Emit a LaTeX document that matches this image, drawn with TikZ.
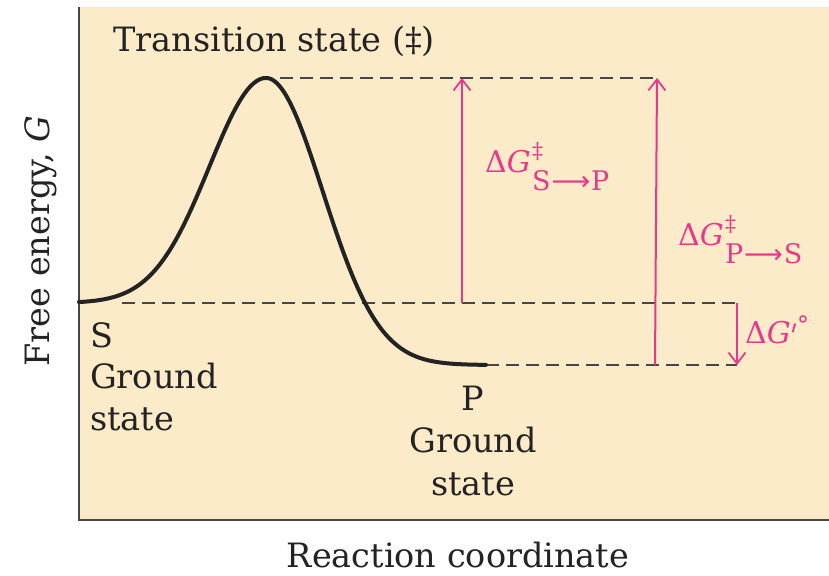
\documentclass[tikz,border=0pt]{standalone}
\usepackage{fontspec}
\setmainfont{DejaVu Serif}
\newfontfamily\arrowfont{DejaVu Sans}
\usetikzlibrary{arrows.meta}
\definecolor{cream}{RGB}{252,235,200}
\definecolor{axisgrey}{RGB}{70,70,70}
\definecolor{inkblack}{RGB}{35,35,35}
\definecolor{hotpink}{RGB}{232,56,140}
\newcommand{\subarrow}{\kern1pt{\arrowfont ⟶}\kern1pt}
\newcommand{\dglab}[1]{Δ\textit{G}\kern0.04em\rlap{\raisebox{14pt}{\fontsize{22}{22}\selectfont ‡}}\raisebox{-18pt}{\fontsize{27}{28}\selectfont #1}}
\tikzset{
  lbl/.style={inner sep=0pt, text=inkblack, font=\fontsize{33.5}{38}\selectfont},
  plbl/.style={inner sep=0pt, text=hotpink, font=\fontsize{30}{33}\selectfont},
  energycurve/.style={line width=4pt, inkblack, line cap=round},
  level/.style={line width=2.2pt, axisgrey, dash pattern=on 13pt off 7pt},
  parrow/.style={line width=2pt, hotpink, -{Straight Barb[length=11pt,width=17pt,line width=1.8pt]}},
  axisline/.style={line width=2.5pt, axisgrey}
}
\begin{document}
\begin{tikzpicture}[x=1pt,y=-1pt]
\useasboundingbox (0,0) rectangle (829,575);
\fill[white] (0,0) rectangle (829,575);
\fill[cream] (79,7) rectangle (829,520);
\draw[axisline] (79,7) -- (79,520) -- (829,520);

% key points
\coordinate (ts) at (266,78);
\coordinate (sg) at (79,303);
\coordinate (pg) at (486,365);
\coordinate (tsA) at (462,78);
\coordinate (tsB) at (657,78);
\coordinate (sA) at (462,303);
\coordinate (sEnd) at (737,303);
\coordinate (pB) at (655,365);
\coordinate (pEnd) at (737,365);

% dashed levels
\draw[level] (280,78) -- (tsB);
\draw[level] (122,303) -- (sEnd);
\draw[level] (pg) -- (pEnd);

% energy curve
\draw[energycurve] plot[domain=79:266, samples=80] (\x, {303-225*exp(-((\x-266)/80)^2)})
  -- plot[domain=266:486, samples=100] (\x, {365-287*exp(-((\x-266)/80)^2)});

% pink arrows
\draw[parrow] (sA) -- (tsA);
\draw[parrow] (pB) -- (tsB);
\draw[parrow] (sEnd) -- (pEnd);

% labels
\node[lbl, anchor=base west] (title) at (113,52) {Transition state (‡)};
\node[lbl, anchor=base west] (sname) at (90,347) {S};
\node[lbl, anchor=base west] (sground) at (90,388) {Ground};
\node[lbl, anchor=base west] (sstate) at (90,430) {state};
\node[lbl, anchor=base] (pname) at (473,410) {P};
\node[lbl, anchor=base] (pground) at (473,452) {Ground};
\node[lbl, anchor=base] (pstate) at (473,495) {state};
\node[lbl, anchor=base] (xaxis) at (458,567) {Reaction coordinate};
\node[lbl, anchor=base, rotate=90] (yaxis) at (49,241) {Free energy, \textit{G}};

\node[plbl, anchor=base west] (dgsp) at (485,172) {\dglab{S\subarrow P}};
\node[plbl, anchor=base west] (dgps) at (678,245) {\dglab{P\subarrow S}};
\node[plbl, anchor=base west] (dgo) at (745,343) {Δ\textit{G}\kern1pt\raisebox{11pt}{\rotatebox{-15}{\rule{1.9pt}{9pt}}}\kern1pt\raisebox{10pt}{\fontsize{24}{24}\selectfont °}};
\end{tikzpicture}
\end{document}
